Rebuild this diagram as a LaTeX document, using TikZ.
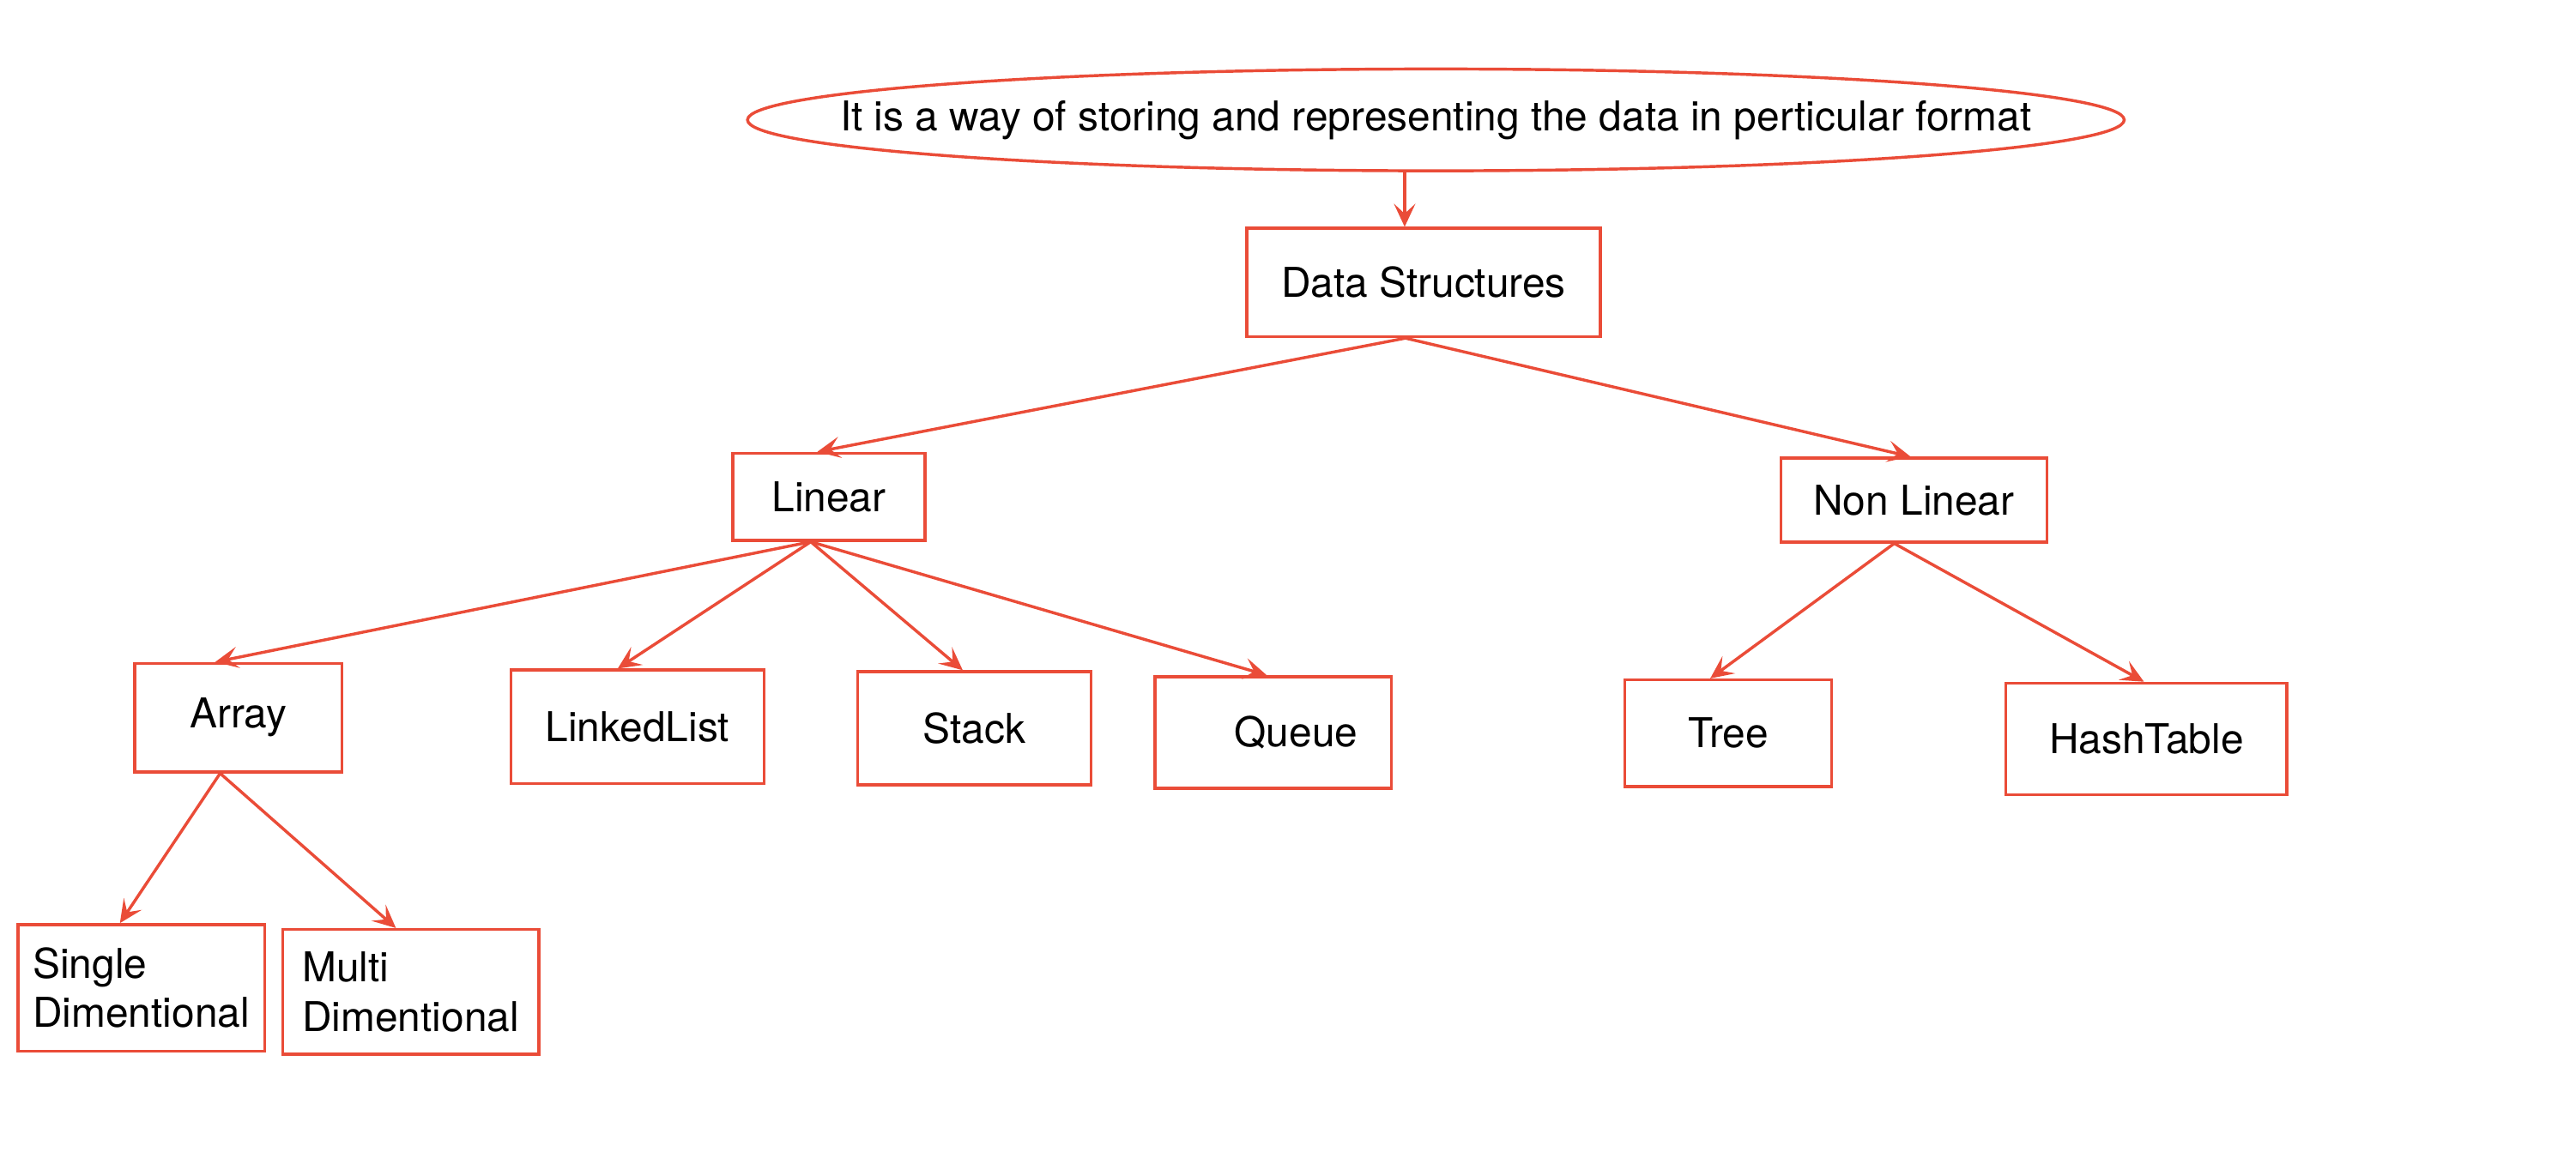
\documentclass[tikz,border=0pt]{standalone}
\usepackage{fontspec}
\setmainfont{TeX Gyre Heros}
\usetikzlibrary{shapes.geometric,arrows.meta}
\definecolor{dsred}{RGB}{234,76,56}
\begin{document}
\begin{tikzpicture}[x=1pt,y=1pt,
  box/.style={draw=dsred,line width=1.8pt,inner sep=0pt,font=\fontsize{25}{30}\selectfont},
  link/.style={draw=dsred,line width=1.8pt,-{Stealth[length=14pt,width=13pt,inset=6pt]}}]
\useasboundingbox (0,0) rectangle (1568,-712);
\node [box,ellipse,inner xsep=-80pt,minimum width=838,minimum height=62] (def) at (874,-73)
  {It is a way of storing and representing the data in perticular format};
\node [box,minimum width=215,minimum height=66] (ds) at (866.5,-172) {Data Structures};
\node [box,minimum width=117,minimum height=53] (lin) at (504.5,-302.5) {Linear};
\node [box,minimum width=162,minimum height=51] (nonlin) at (1165,-304.5) {Non Linear};
\node [box,minimum width=126,minimum height=66] (arr) at (145,-437) {Array};
\node [box,minimum width=154,minimum height=69] (list) at (388,-442.5) {LinkedList};
\node [box,minimum width=142,minimum height=69] (stack) at (593,-443.5) {Stack};
\node [box,minimum width=144,minimum height=68] (queue) at (775,-446) {\hspace*{28pt}Queue};
\node [box,minimum width=126,minimum height=65] (tree) at (1052,-446.5) {Tree};
\node [box,minimum width=171,minimum height=68] (hash) at (1306.5,-450) {HashTable};
\node [box,minimum width=150,minimum height=77,align=left] (single) at (86,-601.5)
  {Single\\Dimentional};
\node [box,minimum width=156,minimum height=76,align=left] (multi) at (250,-604)
  {Multi\\Dimentional};
\draw [link] ([xshift=-19pt]def.south) -- ([xshift=-11.5pt]ds.north);
\draw [link] ([xshift=-11pt]ds.south) -- ([xshift=-7pt]lin.north);
\draw [link] ([xshift=-11pt]ds.south) -- ([xshift=-2pt]nonlin.north);
\draw [link] ([xshift=-11pt]lin.south) -- ([xshift=-14pt]arr.north);
\draw [link] ([xshift=-11pt]lin.south) -- ([xshift=-12pt]list.north);
\draw [link] ([xshift=-11pt]lin.south) -- ([xshift=-7pt]stack.north);
\draw [link] ([xshift=-11pt]lin.south) -- ([xshift=-4pt]queue.north);
\draw [link] ([xshift=-12pt]nonlin.south) -- ([xshift=-11pt]tree.north);
\draw [link] ([xshift=-12pt]nonlin.south) -- ([xshift=-1.5pt]hash.north);
\draw [link] ([xshift=-11pt]arr.south) -- ([xshift=-13pt]single.north);
\draw [link] ([xshift=-11pt]arr.south) -- ([xshift=-9pt]multi.north);
\end{tikzpicture}
\end{document}
